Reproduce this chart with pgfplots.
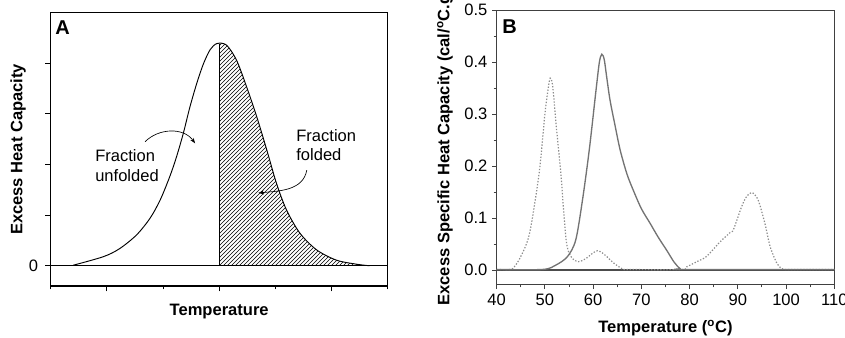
\documentclass[border=0pt]{standalone}
\usepackage{pgfplots}
\pgfplotsset{compat=1.18}
\usepackage{fontspec}
\setmainfont{Liberation Sans}
\usetikzlibrary{patterns,arrows.meta}
\newcommand{\fs}{\fontsize{12.4}{14.5}\selectfont}
\begin{document}
\begin{tikzpicture}
\useasboundingbox (0,0) rectangle (633.75pt,252.75pt);
% ---------------- Panel A ----------------
\begin{axis}[
  at={(38pt,38.25pt)}, anchor=south west,
  width=252.75pt, height=205pt, scale only axis,
  xmin=0, xmax=6, ymin=-0.4, ymax=5,
  axis line style={line width=0.8pt, black},
  tick style={black, line width=0.7pt},
  tick align=outside, tick pos=left,
  xtick={1,3,5}, xticklabels={},
  minor xtick={0,2,4,6}, minor tick length=2.5pt, major tick length=4pt,
  ytick={0,1,2,3,4}, yticklabels={0,,,,},
  /pgf/number format/assume math mode=true,
  ticklabel style={font=\fs},
  yticklabel style={xshift=-2pt},
  xlabel={\bfseries Temperature},
  ylabel={\bfseries Excess Heat Capacity},
  label style={font=\fs},
  xlabel style={at={(axis description cs:0.5,-0.095)}, anchor=center},
  ylabel style={at={(axis description cs:-0.097,0.5)}, anchor=center},
  clip=false,
]
\addplot[draw=none, pattern=north east lines, smooth] coordinates {
 (3.0,4.39)(3.13,4.36)(3.31,4.06)(3.49,3.53)(3.67,2.94)(3.85,2.28)(4.02,1.63)(4.20,1.10)(4.44,0.64)(4.74,0.31)(5.09,0.11)(5.45,0.03)(5.68,0)
} \closedcycle;
\addplot[black, line width=0.7pt] coordinates {(0,0)(6,0)};
\addplot[black, line width=0.9pt] coordinates {(3,0)(3,4.39)};
\addplot[black, line width=0.7pt, smooth] coordinates {
 (0.40,0.01)(0.94,0.18)(1.23,0.34)(1.53,0.61)(1.77,0.94)(1.95,1.30)(2.12,1.76)(2.24,2.15)(2.36,2.61)(2.48,3.14)(2.60,3.60)(2.72,3.99)(2.84,4.27)(2.96,4.39)
 (3.13,4.36)(3.31,4.06)(3.49,3.53)(3.67,2.94)(3.85,2.28)(4.02,1.63)(4.20,1.10)(4.44,0.64)(4.74,0.31)(5.09,0.11)(5.45,0.03)(5.68,0)
};
\node[anchor=west, align=left, font=\fs, inner sep=0pt] at (axis cs:0.79,1.98) {Fraction\\unfolded};
\node[anchor=west, align=left, font=\fs, inner sep=0pt] at (axis cs:4.37,2.38) {Fraction\\folded};
\draw[-{Stealth[length=4pt,width=3pt]}, line width=0.5pt] (axis cs:1.68,2.45) to[out=45,in=125] (axis cs:2.57,2.42);
\draw[-{Stealth[length=4pt,width=3pt]}, line width=0.5pt] (axis cs:4.56,1.89) to[out=-100,in=5] (axis cs:3.70,1.44);
\node[anchor=north west, font=\fontsize{15}{17}\selectfont\bfseries, inner sep=0pt] at (axis description cs:0.013,0.97) {A};
\end{axis}
% ---------------- Panel B ----------------
\begin{axis}[
  at={(372.5pt,39.5pt)}, anchor=south west,
  width=253.2pt, height=205.7pt, scale only axis,
  xmin=40, xmax=110, ymin=-0.0276, ymax=0.5,
  axis line style={line width=0.8pt, black!75},
  tick style={black!75, line width=0.7pt},
  tick align=outside, tick pos=left,
  xtick={40,50,...,110}, minor x tick num=1,
  ytick={0,0.1,0.2,0.3,0.4,0.5}, minor y tick num=1,
  major tick length=3.5pt, minor tick length=2.2pt,
  /pgf/number format/assume math mode=true,
  yticklabel style={/pgf/number format/.cd, fixed, fixed zerofill, precision=1},
  ticklabel style={font=\fs},
  xlabel={\bfseries Temperature (\textsuperscript{o}C)},
  ylabel={\bfseries Excess Specific Heat Capacity (cal/\textsuperscript{o}C.g)},
  label style={font=\fs},
  xlabel style={at={(axis description cs:0.5,-0.159)}, anchor=center},
  ylabel style={at={(axis description cs:-0.153,0.5)}, anchor=center},
  clip=false,
]
\addplot[black!70, line width=1.3pt] coordinates {(40,0)(110,0)};
% dotted series
\addplot[black!45, line width=0.9pt, dash pattern=on 1pt off 1.3pt, smooth] coordinates {
 (40,0.001)(42.8,0.001)(43.65,0.006)(45.0,0.026)(46.8,0.07)(48.8,0.186)(50.0,0.30)(50.7,0.35)(51.1,0.369)(51.6,0.355)(52.3,0.282)(53.3,0.186)(54.4,0.058)(55.4,0.026)(56.9,0.016)(58.5,0.022)(60.0,0.033)(60.9,0.037)(61.6,0.035)(62.8,0.026)(64.2,0.014)(65.9,0.003)(67,0.001)(78.3,0.001)(79.4,0.006)(81.5,0.016)(83.5,0.026)(86.3,0.054)(88.4,0.072)(89.1,0.078)(90.8,0.122)(91.8,0.141)(92.9,0.149)(94.2,0.135)(95.6,0.09)(96.7,0.045)(98.1,0.013)(99.1,0.003)(100.5,0.001)(110,0.001)
};
% solid series
\addplot[black!55, line width=1pt, smooth] coordinates {
 (40,0.001)(49.5,0.001)(52.3,0.0096)(54.7,0.026)(56.4,0.058)(57.8,0.135)(59.2,0.231)(60.6,0.346)(61.3,0.400)(61.8,0.415)(62.3,0.405)(62.8,0.372)(63.5,0.327)(64.5,0.28)(65.6,0.231)(67.0,0.185)(68.3,0.154)(70.0,0.118)(71.8,0.09)(73.5,0.063)(75.25,0.038)(76.8,0.015)(78.0,0.003)(79,0.001)(110,0.001)
};
\node[anchor=north west, font=\fontsize{15}{17}\selectfont\bfseries, inner sep=0pt] at (axis description cs:0.016,0.965) {B};
\end{axis}
\end{tikzpicture}
\end{document}
